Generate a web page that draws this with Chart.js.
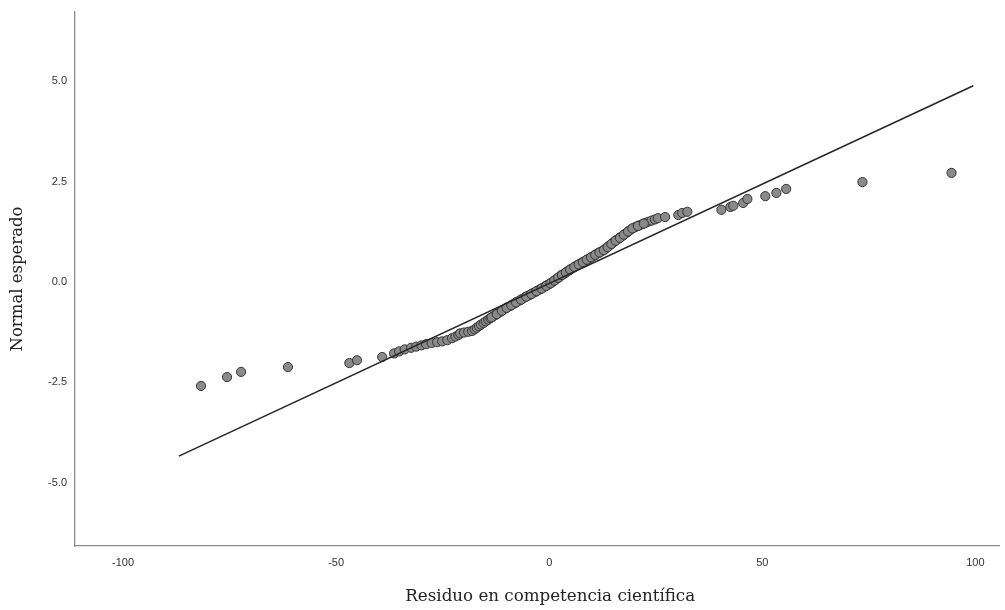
<!DOCTYPE html>
<html>
<head>
<meta charset="utf-8">
<script src="https://cdn.jsdelivr.net/npm/chart.js@4.4.0/dist/chart.umd.min.js"></script>
<style>
  html, body { margin: 0; padding: 0; background: #ffffff; }
  #wrap { width: 1005px; height: 610px; position: relative; }
</style>
</head>
<body>
<div id="wrap"><canvas id="c" width="1005" height="610"></canvas></div>
<script>
const residuals = [
  -81.7, -75.6, -72.3, -61.3, -46.9, -45.1, -39.2, -36.4, -35.2, -33.9,
  -32.4, -31.2, -30.0, -28.9, -27.6, -26.3, -25.1, -23.9,
  -22.8, -22.0, -21.3, -20.9, -20.0, -19.0, -18.1, -17.5, -17.0, -16.5,
  -16.0, -15.4, -14.9, -14.3, -13.8, -13.2, -12.6, -12.0, -11.4, -10.9,
  -10.3, -9.8, -9.2, -8.6, -8.1, -7.5, -6.9, -6.3, -5.7, -5.1,
  -4.5, -3.9, -3.3, -2.7, -2.1, -1.6, -1.0, -0.5, 0.0, 0.5,
  1.0, 1.4, 1.9, 2.3, 2.7, 3.2, 3.7, 4.2, 4.7, 5.2,
  5.7, 6.1, 6.6, 7.1, 7.6, 8.1, 8.6, 9.1, 9.6, 10.1,
  10.6, 11.0, 11.5, 12.0, 12.5, 13.0, 13.4, 13.9, 14.4, 14.9,
  15.3, 15.8, 16.3, 16.8, 17.3, 17.8, 18.3, 18.8, 19.3, 19.8,
  20.4, 21.1, 21.8, 22.5, 23.2, 24.0, 24.8, 25.5, 27.2, 30.3,
  31.2, 32.4,
  40.4, 42.5, 43.2, 45.5, 46.5, 50.7, 53.3, 55.6, 73.5, 94.4,
  -13.5, -12.3, -11.1, -10.0, -8.9, -7.8, -6.6, -5.4, -4.2, -3.0,
  -1.8, -0.7, 0.3, 1.2, 2.1, 3.0, 3.9, 4.9, 5.9, 6.9,
  7.9, 8.8, 9.8, 10.8, 11.8, 12.8, 13.7, 14.6, 15.6, 16.6,
  17.5, 18.5, 19.5, 20.8, 22.2
];
const expectedNormal = [
  -2.59, -2.37, -2.24, -2.12, -2.02, -1.95, -1.87, -1.78, -1.73, -1.68,
  -1.64, -1.61, -1.58, -1.55, -1.52, -1.50, -1.48, -1.45,
  -1.40, -1.36, -1.32, -1.28, -1.26, -1.24, -1.22, -1.18, -1.14, -1.10,
  -1.06, -1.02, -0.98, -0.94, -0.90, -0.86, -0.82, -0.78, -0.74, -0.70,
  -0.66, -0.63, -0.60, -0.56, -0.53, -0.49, -0.46, -0.42, -0.38, -0.35,
  -0.32, -0.28, -0.25, -0.21, -0.18, -0.15, -0.11, -0.08, -0.05, -0.02,
  0.02, 0.05, 0.09, 0.12, 0.16, 0.19, 0.22, 0.26, 0.29, 0.33,
  0.36, 0.39, 0.42, 0.45, 0.48, 0.51, 0.54, 0.57, 0.60, 0.63,
  0.66, 0.69, 0.72, 0.75, 0.78, 0.81, 0.85, 0.89, 0.93, 0.97,
  1.01, 1.05, 1.08, 1.12, 1.16, 1.20, 1.24, 1.28, 1.32, 1.35,
  1.38, 1.41, 1.44, 1.47, 1.50, 1.53, 1.56, 1.59, 1.62, 1.67,
  1.72, 1.75,
  1.80, 1.87, 1.90, 1.97, 2.07, 2.14, 2.22, 2.32, 2.49, 2.72,
  -0.88, -0.80, -0.72, -0.645, -0.58, -0.51, -0.44, -0.365, -0.30, -0.23,
  -0.165, -0.095, -0.035, 0.035, 0.105, 0.175, 0.24, 0.31, 0.375, 0.435,
  0.495, 0.555, 0.615, 0.675, 0.735, 0.795, 0.87, 0.95, 1.03, 1.10,
  1.18, 1.26, 1.335, 1.395, 1.455
];
// Reference line endpoints
const lineX = [-86.9, 99.5];
const lineY = [-4.34, 4.89];
// Axis ticks
const xTicks = [-100, -50, 0, 50, 100];
const yTicks = [-5.0, -2.5, 0.0, 2.5, 5.0];
const xTitle = 'Residuo en competencia científica';
const yTitle = 'Normal esperado';

const pointData = residuals.map((x, i) => ({ x: x, y: expectedNormal[i] }));
const lineData = lineX.map((x, i) => ({ x: x, y: lineY[i] }));

// Draws the x-axis title centred under the zero tick
const xTitlePlugin = {
  id: 'xTitle',
  afterDraw(chart) {
    const ctx = chart.ctx;
    const xs = chart.scales.x;
    ctx.save();
    ctx.font = '16.7px "DejaVu Serif", serif';
    ctx.fillStyle = '#222222';
    ctx.textAlign = 'center';
    ctx.textBaseline = 'middle';
    ctx.fillText(xTitle, xs.getPixelForValue(0) + 1, 597);
    ctx.restore();
  }
};

new Chart(document.getElementById('c'), {
  type: 'scatter',
  data: {
    datasets: [
      {
        data: lineData,
        showLine: true,
        borderColor: '#262626',
        borderWidth: 1.6,
        pointRadius: 0,
        fill: false,
        order: 0
      },
      {
        data: pointData,
        pointRadius: 4.6,
        pointBackgroundColor: '#8a8a8a',
        pointBorderColor: '#353535',
        pointBorderWidth: 1,
        order: 1
      }
    ]
  },
  plugins: [xTitlePlugin],
  options: {
    responsive: false,
    animation: false,
    devicePixelRatio: 1,
    layout: { padding: { left: 0, right: 0, top: 12, bottom: 0 } },
    plugins: { legend: { display: false }, tooltip: { enabled: false } },
    scales: {
      x: {
        type: 'linear',
        min: -111.27,
        max: 105.63,
        afterBuildTicks: s => { s.ticks = xTicks.map(v => ({ value: v })); },
        afterFit: s => { s.height = 64; s.paddingLeft = 0; s.paddingRight = 0; },
        grid: { display: false, drawTicks: false },
        border: { display: true, color: '#8c8c8c', width: 1.3 },
        ticks: {
          padding: 10,
          color: '#333333',
          font: { family: 'Liberation Sans, Arial, sans-serif', size: 11 },
          callback: v => String(v),
          maxRotation: 0
        },
        title: { display: false }
      },
      y: {
        type: 'linear',
        min: -6.58,
        max: 6.73,
        afterBuildTicks: s => { s.ticks = yTicks.map(v => ({ value: v })); },
        afterFit: s => { s.width = 75; s.paddingTop = 0; s.paddingBottom = 0; },
        grid: { display: false, drawTicks: false },
        border: { display: true, color: '#8c8c8c', width: 1.3 },
        ticks: {
          padding: 8,
          color: '#333333',
          font: { family: 'Liberation Sans, Arial, sans-serif', size: 11 },
          callback: v => v.toFixed(1)
        },
        title: {
          display: true,
          text: yTitle,
          color: '#222222',
          font: { family: 'DejaVu Serif, serif', size: 16.5 },
          padding: { top: 8, bottom: 0 }
        }
      }
    }
  }
});
</script>
</body>
</html>
